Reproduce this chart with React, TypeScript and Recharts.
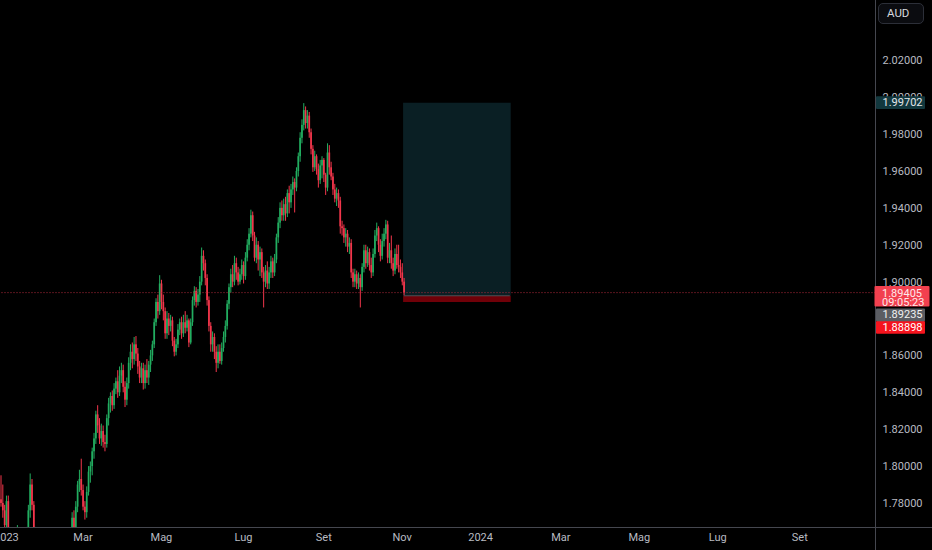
import React from "react";
import {
  ComposedChart,
  Bar,
  XAxis,
  YAxis,
  ReferenceArea,
  ReferenceLine,
} from "recharts";

// GBP/AUD daily candles, 28 Dec 2022 -> 2 Nov 2023
const opens = [
  1.782, 1.78, 1.776, 1.768, 1.781, 1.764, 1.756, 1.754, 1.748, 1.752,
  1.758, 1.761, 1.756, 1.763, 1.76, 1.765, 1.776, 1.79, 1.779, 1.765,
  1.76, 1.757, 1.752, 1.746, 1.748, 1.744, 1.75, 1.742, 1.735, 1.738,
  1.744, 1.74, 1.748, 1.752, 1.746, 1.75, 1.755, 1.751, 1.758, 1.763,
  1.772, 1.766, 1.778, 1.79, 1.793, 1.787, 1.778, 1.775, 1.786, 1.797,
  1.8, 1.808, 1.815, 1.828, 1.822, 1.815, 1.819, 1.813, 1.812, 1.826,
  1.834, 1.838, 1.833, 1.842, 1.846, 1.84, 1.849, 1.852, 1.843, 1.836,
  1.845, 1.856, 1.862, 1.858, 1.866, 1.861, 1.854, 1.848, 1.853, 1.845,
  1.852, 1.848, 1.855, 1.86, 1.866, 1.878, 1.889, 1.884, 1.899, 1.889,
  1.884, 1.872, 1.88, 1.876, 1.879, 1.868, 1.862, 1.866, 1.874, 1.878,
  1.872, 1.878, 1.875, 1.879, 1.867, 1.878, 1.89, 1.895, 1.889, 1.893,
  1.9, 1.914, 1.91, 1.902, 1.89, 1.876, 1.866, 1.87, 1.862, 1.856,
  1.862, 1.857, 1.864, 1.87, 1.876, 1.888, 1.897, 1.904, 1.9, 1.91,
  1.905, 1.9, 1.904, 1.909, 1.903, 1.913, 1.92, 1.926, 1.936, 1.925,
  1.913, 1.92, 1.912, 1.916, 1.905, 1.9, 1.906, 1.899, 1.905, 1.911,
  1.905, 1.912, 1.924, 1.932, 1.94, 1.936, 1.942, 1.937, 1.948, 1.943,
  1.95, 1.954, 1.951, 1.96, 1.968, 1.978, 1.985, 1.993, 1.986, 1.99,
  1.981, 1.972, 1.962, 1.968, 1.961, 1.955, 1.963, 1.966, 1.958, 1.951,
  1.97, 1.962, 1.957, 1.95, 1.945, 1.948, 1.944, 1.93, 1.929, 1.924,
  1.926, 1.919, 1.921, 1.905, 1.9, 1.904, 1.899, 1.902, 1.897, 1.908,
  1.917, 1.91, 1.916, 1.909, 1.905, 1.915, 1.925, 1.929, 1.92, 1.914,
  1.922, 1.926, 1.931, 1.913, 1.917, 1.91, 1.906, 1.915, 1.909, 1.908,
  1.905, 1.9,
];
const highs = [
  1.795, 1.79, 1.779, 1.784, 1.784, 1.766, 1.759, 1.757, 1.755, 1.768,
  1.764, 1.763, 1.765, 1.765, 1.767, 1.779, 1.796, 1.793, 1.781, 1.767,
  1.763, 1.76, 1.755, 1.752, 1.751, 1.754, 1.752, 1.745, 1.741, 1.747,
  1.746, 1.751, 1.756, 1.754, 1.753, 1.759, 1.757, 1.761, 1.766, 1.775,
  1.776, 1.781, 1.792, 1.798, 1.804, 1.79, 1.781, 1.789, 1.8, 1.8025,
  1.81, 1.818, 1.83, 1.833, 1.826, 1.823, 1.822, 1.817, 1.828, 1.837,
  1.84, 1.841, 1.845, 1.848, 1.852, 1.854, 1.856, 1.855, 1.846, 1.848,
  1.859, 1.866, 1.867, 1.87, 1.8705, 1.864, 1.857, 1.856, 1.856, 1.855,
  1.858, 1.857, 1.863, 1.868, 1.88, 1.891, 1.893, 1.9035, 1.901, 1.893,
  1.886, 1.884, 1.883, 1.882, 1.881, 1.87, 1.869, 1.877, 1.88, 1.881,
  1.882, 1.884, 1.882, 1.88, 1.88, 1.892, 1.8975, 1.897, 1.896, 1.903,
  1.9185, 1.917, 1.912, 1.904, 1.892, 1.878, 1.873, 1.872, 1.865, 1.866,
  1.866, 1.867, 1.873, 1.879, 1.89, 1.899, 1.907, 1.909, 1.914, 1.913,
  1.908, 1.907, 1.912, 1.911, 1.916, 1.923, 1.929, 1.939, 1.938, 1.927,
  1.924, 1.922, 1.919, 1.918, 1.908, 1.909, 1.911, 1.908, 1.914, 1.913,
  1.915, 1.926, 1.935, 1.943, 1.944, 1.945, 1.946, 1.95, 1.952, 1.953,
  1.957, 1.956, 1.962, 1.97, 1.981, 1.988, 1.9968, 1.995, 1.993, 1.992,
  1.983, 1.974, 1.971, 1.969, 1.964, 1.966, 1.968, 1.967, 1.959, 1.975,
  1.974, 1.965, 1.959, 1.953, 1.951, 1.95, 1.946, 1.933, 1.931, 1.929,
  1.928, 1.924, 1.923, 1.907, 1.907, 1.906, 1.905, 1.904, 1.91, 1.92,
  1.92, 1.919, 1.918, 1.913, 1.918, 1.928, 1.932, 1.93, 1.923, 1.926,
  1.929, 1.9335, 1.933, 1.921, 1.925, 1.913, 1.918, 1.92, 1.92, 1.912,
  1.91, 1.902,
];
const lows = [
  1.778, 1.772, 1.765, 1.764, 1.76, 1.752, 1.749, 1.745, 1.746, 1.75,
  1.755, 1.753, 1.754, 1.757, 1.758, 1.762, 1.772, 1.776, 1.762, 1.757,
  1.754, 1.749, 1.743, 1.744, 1.741, 1.742, 1.739, 1.731, 1.732, 1.736,
  1.737, 1.738, 1.745, 1.743, 1.744, 1.748, 1.748, 1.749, 1.756, 1.76,
  1.762, 1.764, 1.775, 1.786, 1.784, 1.776, 1.771, 1.772, 1.784, 1.791,
  1.795, 1.804, 1.812, 1.818, 1.812, 1.811, 1.81, 1.808, 1.81, 1.822,
  1.829, 1.83, 1.831, 1.839, 1.837, 1.838, 1.845, 1.84, 1.832, 1.833,
  1.842, 1.852, 1.853, 1.855, 1.857, 1.85, 1.845, 1.845, 1.8415, 1.842,
  1.845, 1.844, 1.851, 1.857, 1.864, 1.876, 1.88, 1.882, 1.885, 1.879,
  1.869, 1.869, 1.871, 1.873, 1.865, 1.8595, 1.86, 1.864, 1.871, 1.869,
  1.87, 1.872, 1.873, 1.8645, 1.866, 1.876, 1.887, 1.886, 1.887, 1.889,
  1.898, 1.906, 1.898, 1.887, 1.873, 1.862, 1.862, 1.858, 1.851, 1.853,
  1.8555, 1.855, 1.862, 1.867, 1.874, 1.885, 1.894, 1.897, 1.898, 1.901,
  1.898, 1.8985, 1.901, 1.899, 1.901, 1.911, 1.917, 1.924, 1.922, 1.911,
  1.91, 1.906, 1.903, 1.902, 1.886, 1.897, 1.896, 1.896, 1.902, 1.902,
  1.903, 1.91, 1.921, 1.929, 1.933, 1.933, 1.933, 1.935, 1.937, 1.94,
  1.947, 1.9375, 1.949, 1.957, 1.965, 1.975, 1.982, 1.983, 1.983, 1.978,
  1.969, 1.9595, 1.96, 1.958, 1.951, 1.953, 1.956, 1.954, 1.947, 1.949,
  1.958, 1.955, 1.947, 1.943, 1.941, 1.94, 1.926, 1.925, 1.921, 1.919,
  1.916, 1.915, 1.902, 1.897, 1.897, 1.896, 1.896, 1.886, 1.895, 1.905,
  1.907, 1.908, 1.906, 1.902, 1.903, 1.913, 1.922, 1.916, 1.911, 1.912,
  1.919, 1.923, 1.91, 1.91, 1.907, 1.903, 1.904, 1.907, 1.905, 1.902,
  1.898, 1.8925,
];
const closes = [
  1.78, 1.776, 1.768, 1.781, 1.764, 1.756, 1.754, 1.748, 1.752, 1.758,
  1.761, 1.756, 1.763, 1.76, 1.765, 1.776, 1.79, 1.779, 1.765, 1.76,
  1.757, 1.752, 1.746, 1.748, 1.744, 1.75, 1.742, 1.735, 1.738, 1.744,
  1.74, 1.748, 1.752, 1.746, 1.75, 1.755, 1.751, 1.758, 1.763, 1.772,
  1.766, 1.778, 1.79, 1.793, 1.787, 1.778, 1.775, 1.786, 1.797, 1.8,
  1.808, 1.815, 1.828, 1.822, 1.815, 1.819, 1.813, 1.812, 1.826, 1.834,
  1.838, 1.833, 1.842, 1.846, 1.84, 1.849, 1.852, 1.843, 1.836, 1.845,
  1.856, 1.862, 1.858, 1.866, 1.861, 1.854, 1.848, 1.853, 1.845, 1.852,
  1.848, 1.855, 1.86, 1.866, 1.878, 1.889, 1.884, 1.899, 1.889, 1.884,
  1.872, 1.88, 1.876, 1.879, 1.868, 1.862, 1.866, 1.874, 1.878, 1.872,
  1.878, 1.875, 1.879, 1.867, 1.878, 1.89, 1.895, 1.889, 1.893, 1.9,
  1.914, 1.91, 1.902, 1.89, 1.876, 1.866, 1.87, 1.862, 1.856, 1.862,
  1.857, 1.864, 1.87, 1.876, 1.888, 1.897, 1.904, 1.9, 1.91, 1.905,
  1.9, 1.904, 1.909, 1.903, 1.913, 1.92, 1.926, 1.936, 1.925, 1.913,
  1.92, 1.912, 1.916, 1.905, 1.9, 1.906, 1.899, 1.905, 1.911, 1.905,
  1.912, 1.924, 1.932, 1.94, 1.936, 1.942, 1.937, 1.948, 1.943, 1.95,
  1.954, 1.951, 1.96, 1.968, 1.978, 1.985, 1.993, 1.986, 1.99, 1.981,
  1.972, 1.962, 1.968, 1.961, 1.955, 1.963, 1.966, 1.958, 1.951, 1.97,
  1.962, 1.957, 1.95, 1.945, 1.948, 1.944, 1.93, 1.929, 1.924, 1.926,
  1.919, 1.921, 1.905, 1.9, 1.904, 1.899, 1.902, 1.897, 1.908, 1.917,
  1.91, 1.916, 1.909, 1.905, 1.915, 1.925, 1.929, 1.92, 1.914, 1.922,
  1.926, 1.931, 1.913, 1.917, 1.91, 1.906, 1.915, 1.909, 1.908, 1.905,
  1.9, 1.89405,
];

// time axis: first bar of every second month
const tickDates = [
  "2023-01-02", "2023-03-01", "2023-05-01", "2023-07-03", "2023-09-01", "2023-11-01",
  "2024-01-01", "2024-03-01", "2024-05-01", "2024-07-01", "2024-09-02",
];
const tickLabels = ["2023", "Mar", "Mag", "Lug", "Set", "Nov", "2024", "Mar", "Mag", "Lug", "Set"];
// 1.88000 sits under the order tags and is not shown
const priceTicks = [1.78, 1.8, 1.82, 1.84, 1.86, 1.9, 1.92, 1.94, 1.96, 1.98, 2.0, 2.02];
const priceDomain = [1.7667, 2.0527];

// long position tool
const posStart = "2023-11-02";
const posEnd = "2024-01-23";
const takeProfit = 1.99702;
const entry = 1.89235;
const stopLoss = 1.88898;
const lastPrice = 1.89405;
const countdown = "09:05:23";

const UP = "#22ad60";
const DOWN = "#f2364b";
const TEXT = "#b8bbc2";
const LINE = "#45474f";

const W = 932;
const H = 550;
const AXIS_W = 56.5;
const AXIS_H = 22.5;

// weekdays only, like the FX daily feed
function tradingDays(start: string, count: number) {
  const out: string[] = [];
  const d = new Date(start + "T00:00:00Z");
  while (out.length < count) {
    const wd = d.getUTCDay();
    if (wd !== 0 && wd !== 6) out.push(d.toISOString().slice(0, 10));
    d.setUTCDate(d.getUTCDate() + 1);
  }
  return out;
}

const dates = tradingDays("2022-12-28", 480);
const rows = dates.map((date, i) =>
  i < closes.length
    ? { date, open: opens[i], high: highs[i], low: lows[i], close: closes[i] }
    : { date }
);

const Candle = (props: any) => {
  const { x, y, width, height, payload } = props;
  if (!payload || payload.close == null) return null;
  const { open, close, high, low } = payload;
  const top = Math.min(y, y + height);
  const span = Math.abs(height);
  const k = high === low ? 0 : span / (high - low);
  const py = (v: number) => top + (high - v) * k;
  const cx = x + width / 2;
  const color = close >= open ? UP : DOWN;
  const bTop = py(Math.max(open, close));
  const bH = Math.max(1, Math.abs(py(open) - py(close)));
  return (
    <g>
      <line x1={cx} x2={cx} y1={top} y2={top + span} stroke={color} strokeWidth={1} />
      <rect x={cx - 0.85} y={bTop} width={1.7} height={bH} fill={color} />
    </g>
  );
};

const PriceTag = (props: any) => {
  const { viewBox, text, sub, bg, fg, dy = 0, w = 49, dx = 0 } = props;
  if (!viewBox) return null;
  const x = viewBox.x + viewBox.width + dx;
  const cy = viewBox.y + dy;
  if (sub) {
    return (
      <g>
        <rect x={x} y={cy - 6.5} width={w} height={20.5} fill={bg} rx={1} />
        <text x={x + 7.5} y={cy + 0.5} fill={fg} fontSize={11} dominantBaseline="central">
          {text}
        </text>
        <text x={x + 7.5} y={cy + 10} fill={fg} fontSize={11} dominantBaseline="central">
          {sub}
        </text>
      </g>
    );
  }
  return (
    <g>
      <rect x={x} y={cy - 6.5} width={w} height={12.8} fill={bg} rx={1} />
      <text x={x + 6.5} y={cy} fill={fg} fontSize={11} dominantBaseline="central">
        {text}
      </text>
    </g>
  );
};

// price tags sit above the axis labels, so they go in a second chart laid on top
function TagLayer() {
  return (
    <ComposedChart
      width={W}
      height={H}
      data={rows}
      margin={{ top: 0, right: 0, bottom: 0, left: 0 }}
    >
      <XAxis dataKey="date" height={AXIS_H} tick={false} tickLine={false} axisLine={false} />
      <YAxis
        orientation="right"
        width={AXIS_W}
        domain={priceDomain}
        allowDataOverflow
        tick={false}
        tickLine={false}
        axisLine={false}
      />
      <ReferenceLine
        y={takeProfit}
        stroke="none"
        label={<PriceTag text="1.99702" bg="#12383e" fg="#e4e6ea" dx={0.5} />}
      />
      <ReferenceLine
        y={stopLoss}
        stroke="none"
        label={<PriceTag text="1.88898" bg="#f5141e" fg="#ffffff" dy={25.5} dx={0.5} />}
      />
      <ReferenceLine
        y={entry}
        stroke="none"
        label={<PriceTag text="1.89235" bg="#5b5d63" fg="#f0f0f0" dy={19.2} dx={0.5} />}
      />
      <ReferenceLine
        y={lastPrice}
        stroke="none"
        label={
          <PriceTag
            text={lastPrice.toFixed(5)}
            sub={countdown}
            bg="#f2404f"
            fg="#ffe8ea"
            dx={-1}
            w={55}
          />
        }
      />
    </ComposedChart>
  );
}

export default function App() {
  return (
    <div
      style={{
        position: "relative",
        width: W,
        height: H,
        background: "#000",
        fontFamily: "Roboto, 'Noto Sans', sans-serif",
      }}
    >
      <style>{"body{margin:0;background:#000}"}</style>
      <ComposedChart
        width={W}
        height={H}
        data={rows}
        margin={{ top: 0, right: 0, bottom: 0, left: 0 }}
        barCategoryGap={0}
        barGap={0}
      >
        <XAxis
          dataKey="date"
          ticks={tickDates}
          interval={0}
          height={AXIS_H}
          tickLine={false}
          tickMargin={0}
          axisLine={{ stroke: LINE }}
          tick={{ fill: TEXT, fontSize: 11 }}
          tickFormatter={(v: string) => tickLabels[tickDates.indexOf(v)] ?? ""}
        />
        <YAxis
          orientation="right"
          width={AXIS_W}
          domain={priceDomain}
          allowDataOverflow
          ticks={priceTicks}
          interval={0}
          tickLine={false}
          tickMargin={1}
          axisLine={{ stroke: LINE }}
          tick={{ fill: TEXT, fontSize: 11 }}
          tickFormatter={(v: number) => v.toFixed(5)}
        />
        <ReferenceArea
          x1={posStart}
          x2={posEnd}
          y1={entry}
          y2={takeProfit}
          fill="#0a1f24"
          fillOpacity={1}
          stroke="none"
        />
        <ReferenceArea
          x1={posStart}
          x2={posEnd}
          y1={stopLoss}
          y2={entry}
          fill="#700008"
          fillOpacity={1}
          stroke="none"
        />
        <ReferenceLine
          segment={[
            { x: posStart, y: entry },
            { x: posEnd, y: entry },
          ]}
          stroke="#4a5357"
        />
        <ReferenceLine y={lastPrice} stroke="#b02a3b" strokeDasharray="1 2" />
        <Bar
          dataKey={(d: any) => (d.close == null ? null : [d.low, d.high])}
          shape={(p: any) => <Candle {...p} />}
          isAnimationActive={false}
        />
      </ComposedChart>
      <div style={{ position: "absolute", left: 0, top: 0, pointerEvents: "none" }}>
        <TagLayer />
      </div>
      <div
        style={{
          position: "absolute",
          left: 875,
          top: 527,
          width: 57,
          height: 1,
          background: LINE,
        }}
      />
      <div
        style={{
          position: "absolute",
          left: 875,
          top: 527,
          width: 1,
          height: 23,
          background: LINE,
        }}
      />
      <div
        style={{
          position: "absolute",
          left: 878,
          top: 3,
          width: 46,
          height: 21,
          boxSizing: "border-box",
          border: "1px solid #2c2f38",
          borderRadius: 5,
          background: "#0b0c10",
          color: "#d6d8dd",
          fontSize: 11.5,
          lineHeight: "19px",
          paddingLeft: 8,
        }}
      >
        AUD
      </div>
    </div>
  );
}
